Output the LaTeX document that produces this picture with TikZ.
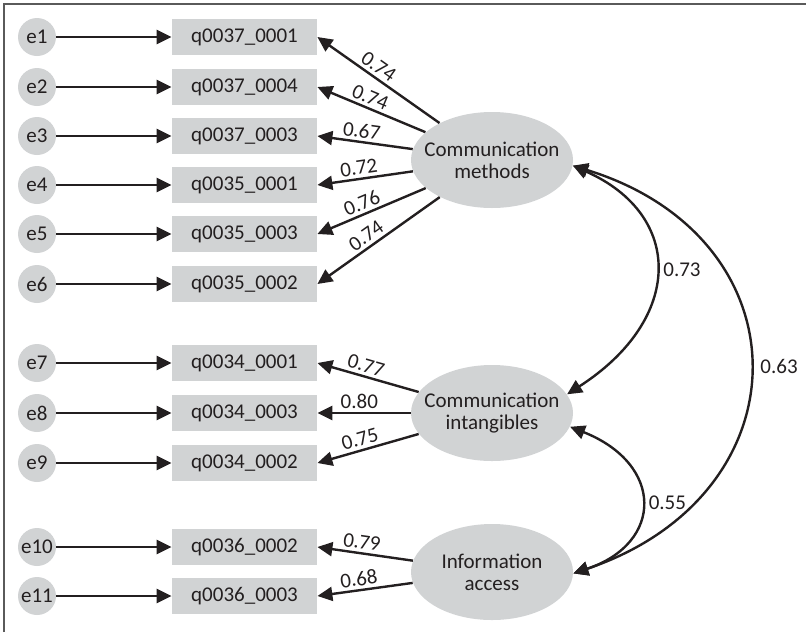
\documentclass[tikz,border=0pt]{standalone}
\usepackage{fontspec}
\setmainfont{Carlito}
\usetikzlibrary{arrows.meta,shapes.geometric}
\definecolor{boxgrey}{RGB}{209,211,212}
\definecolor{inkgrey}{RGB}{35,31,32}
\definecolor{framegrey}{RGB}{90,90,90}
\tikzset{
  errnode/.style={circle, fill=boxgrey, minimum size=19pt, inner sep=0pt, text=inkgrey},
  itembox/.style={rectangle, fill=boxgrey, minimum width=72.5pt, minimum height=18pt, inner sep=0pt, text=inkgrey},
  factor/.style={ellipse, fill=boxgrey, minimum width=81pt, minimum height=48pt, inner xsep=-6pt, inner ysep=0pt, align=center, text=inkgrey},
  loadarrow/.style={-{Triangle[length=7.5pt,width=7pt]}, line width=1.2pt, draw=inkgrey},
  corrarrow/.style={{Triangle[length=7.5pt,width=7pt]}-{Triangle[length=7.5pt,width=7pt]}, line width=1.2pt, draw=inkgrey},
  coef/.style={sloped, above, pos=0.55, inner sep=1.5pt, text=inkgrey}
}
\begin{document}
\begin{tikzpicture}[x=0.5pt, y=-0.5pt, font=\fontsize{10.5}{11}\selectfont]
\useasboundingbox (0,0) rectangle (806,632);
\draw[framegrey, line width=0.7pt] (4,632) -- (4,4) -- (806,4);

% error terms
\node[errnode] (e1) at (37,37) {e1};
\node[errnode] (e2) at (37,87) {e2};
\node[errnode] (e3) at (37,136) {e3};
\node[errnode] (e4) at (37,185) {e4};
\node[errnode] (e5) at (37,234) {e5};
\node[errnode] (e6) at (37,284) {e6};
\node[errnode] (e7) at (37,363) {e7};
\node[errnode] (e8) at (37,413) {e8};
\node[errnode] (e9) at (37,463) {e9};
\node[errnode] (e10) at (37,547) {e10};
\node[errnode] (e11) at (37,596) {e11};

% observed items
\node[itembox] (q1) at (244.5,37) {q0037\_0001};
\node[itembox] (q2) at (244.5,87) {q0037\_0004};
\node[itembox] (q3) at (244.5,136) {q0037\_0003};
\node[itembox] (q4) at (244.5,185) {q0035\_0001};
\node[itembox] (q5) at (244.5,234) {q0035\_0003};
\node[itembox] (q6) at (244.5,284) {q0035\_0002};
\node[itembox] (q7) at (244.5,363) {q0034\_0001};
\node[itembox] (q8) at (244.5,413) {q0034\_0003};
\node[itembox] (q9) at (244.5,463) {q0034\_0002};
\node[itembox] (q10) at (244.5,547) {q0036\_0002};
\node[itembox] (q11) at (244.5,596) {q0036\_0003};

% latent factors
\node[factor] (meth) at (492,160) {Communication\\methods};
\node[factor] (intang) at (492,413) {Communication\\intangibles};
\node[factor] (access) at (492,572) {Information\\access};

\draw[loadarrow] (e1) -- (q1);
\draw[loadarrow] (e2) -- (q2);
\draw[loadarrow] (e3) -- (q3);
\draw[loadarrow] (e4) -- (q4);
\draw[loadarrow] (e5) -- (q5);
\draw[loadarrow] (e6) -- (q6);
\draw[loadarrow] (e7) -- (q7);
\draw[loadarrow] (e8) -- (q8);
\draw[loadarrow] (e9) -- (q9);
\draw[loadarrow] (e10) -- (q10);
\draw[loadarrow] (e11) -- (q11);

\draw[loadarrow] (meth) -- (q1.east) node[coef] {0.74};
\draw[loadarrow] (meth) -- (q2.east) node[coef] {0.74};
\draw[loadarrow] (meth) -- (q3.east) node[coef] {0.67};
\draw[loadarrow] (meth) -- (q4.east) node[coef] {0.72};
\draw[loadarrow] (meth) -- (q5.east) node[coef] {0.76};
\draw[loadarrow] (meth) -- (q6.east) node[coef] {0.74};
\draw[loadarrow] (intang) -- (q7.east) node[coef] {0.77};
\draw[loadarrow] (intang) -- (q8.east) node[coef] {0.80};
\draw[loadarrow] (intang) -- (q9.east) node[coef] {0.75};
\draw[loadarrow] (access) -- (q10.east) node[coef] {0.79};
\draw[loadarrow] (access) -- (q11.east) node[coef] {0.68};

% correlations
\draw[corrarrow] (meth.-4) .. controls (684,215) and (684,319) .. (intang.14)
  node[pos=0.5, right, text=inkgrey] {0.73};
\draw[corrarrow] (meth.-4) .. controls (808,238) and (808,494) .. (access.-1)
  node[pos=0.5, right, inner sep=5pt, text=inkgrey] {0.63};
\draw[corrarrow] (intang.-10) .. controls (664,464) and (664,543) .. (access.-1)
  node[pos=0.5, right, text=inkgrey] {0.55};
\end{tikzpicture}
\end{document}
